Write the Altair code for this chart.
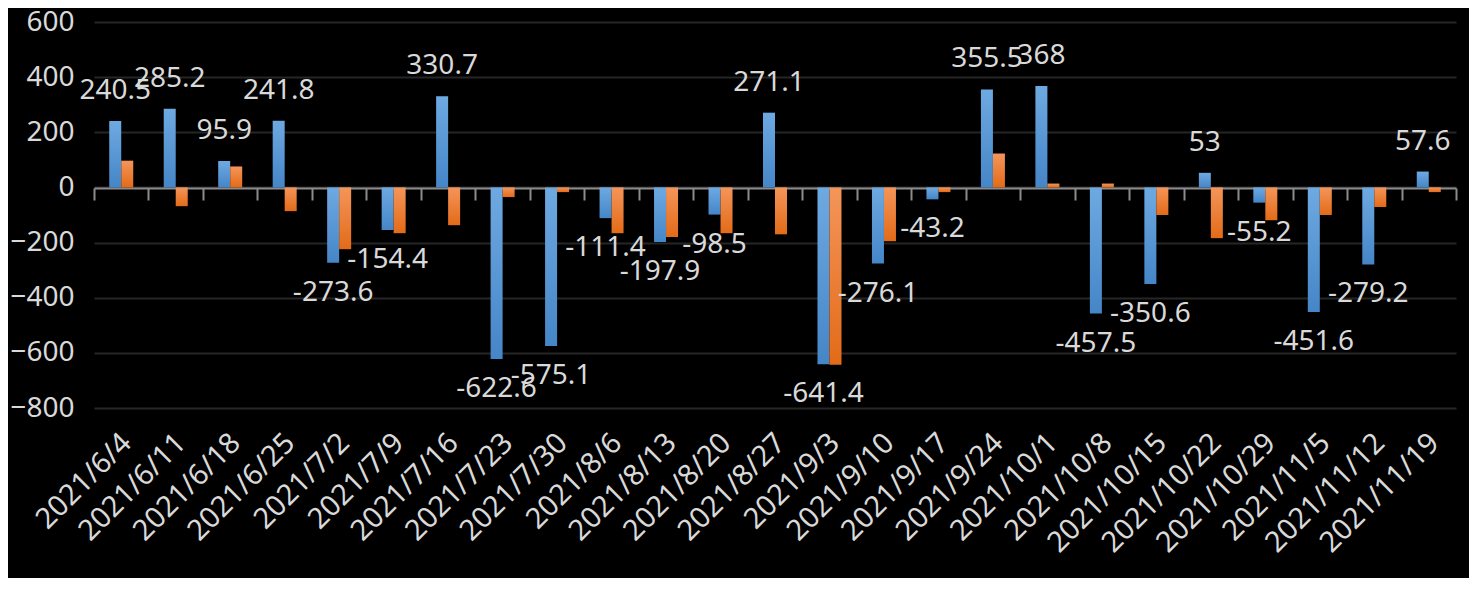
import altair as alt
import pandas as pd

dates = ["2021/6/4", "2021/6/11", "2021/6/18", "2021/6/25", "2021/7/2", "2021/7/9",
         "2021/7/16", "2021/7/23", "2021/7/30", "2021/8/6", "2021/8/13", "2021/8/20",
         "2021/8/27", "2021/9/3", "2021/9/10", "2021/9/17", "2021/9/24", "2021/10/1",
         "2021/10/8", "2021/10/15", "2021/10/22", "2021/10/29", "2021/11/5",
         "2021/11/12", "2021/11/19"]
blue = [240.5, 285.2, 95.9, 241.8, -273.6, -154.4, 330.7, -622.6, -575.1, -111.4,
        -197.9, -98.5, 271.1, -641.4, -276.1, -43.2, 355.5, 368, -457.5, -350.6,
        53, -55.2, -451.6, -279.2, 57.6]
orange = [97, -68, 76, -86, -224, -166, -137, -35, -17, -166, -180, -166, -170,
          -643, -195, -17, 123, 14, 14, -100, -184, -119, -100, -71, -17]
y_ticks = [-800, -600, -400, -200, 0, 200, 400, 600]

rows = []
for d, b, o in zip(dates, blue, orange):
    rows.append({"date": d, "series": "A", "value": b, "label": f"{b:g}"})
    rows.append({"date": d, "series": "B", "value": o, "label": f"{o:g}"})
df = pd.DataFrame(rows)

FONT = "Noto Sans"
TXT = "#d9d9d9"

x_enc = alt.X("date:N", sort=dates, title=None,
              scale=alt.Scale(paddingInner=0, paddingOuter=0),
              axis=alt.Axis(orient="bottom", offset=-220, domainColor="#8c8c8c",
                            domainWidth=2, tickColor="#8c8c8c", tickWidth=2,
                            tickSize=12, tickBand="extent", labelAngle=-45,
                            labelAlign="right", labelBaseline="middle",
                            labelPadding=238, labelOffset=5, labelFontSize=29,
                            labelFont=FONT, labelColor=TXT, grid=False))
xo_enc = alt.XOffset("series:N",
                     scale=alt.Scale(domain=["L", "A", "B", "R"], paddingInner=0,
                                     paddingOuter=0.27))
y_enc = alt.Y("value:Q", title=None,
              scale=alt.Scale(domain=[-800, 600], nice=False, zero=False),
              axis=alt.Axis(values=y_ticks, domain=False, ticks=False,
                            labelPadding=20, labelFontSize=28, labelFont=FONT,
                            labelColor=TXT, gridColor="#262626", gridWidth=2))

base = alt.Chart(df).encode(x=x_enc, xOffset=xo_enc, y=y_enc)

blue_grad = alt.Gradient(gradient="linear", x1=0, x2=0, y1=0, y2=1,
                         stops=[alt.GradientStop(color="#6ea9e1", offset=0),
                                alt.GradientStop(color="#4586c8", offset=1)])
orange_grad = alt.Gradient(gradient="linear", x1=0, x2=0, y1=0, y2=1,
                           stops=[alt.GradientStop(color="#f4955a", offset=0),
                                  alt.GradientStop(color="#e36b18", offset=1)])

bars_a = base.transform_filter(alt.datum.series == "A").mark_bar(color=blue_grad)
bars_b = base.transform_filter(alt.datum.series == "B").mark_bar(color=orange_grad)

txt_pos = base.transform_filter(
    (alt.datum.series == "A") & (alt.datum.value >= 0)
).mark_text(dy=-30, fontSize=28, font=FONT, color=TXT, baseline="middle",
            align="center").encode(text="label:N")
txt_neg = base.transform_filter(
    (alt.datum.series == "A") & (alt.datum.value < 0)
).mark_text(dy=30, fontSize=28, font=FONT, color=TXT, baseline="middle",
            align="center").encode(text="label:N")

chart = alt.layer(bars_a, bars_b, txt_pos, txt_neg).properties(
    width=1362, height=386,
    autosize=alt.AutoSizeParams(type="none"),
    padding={"left": 86, "top": 14, "right": 13, "bottom": 170},
    background="black",
).configure_view(stroke=None)

chart.save("out.html", embed_options={"renderer": "svg", "actions": False})
